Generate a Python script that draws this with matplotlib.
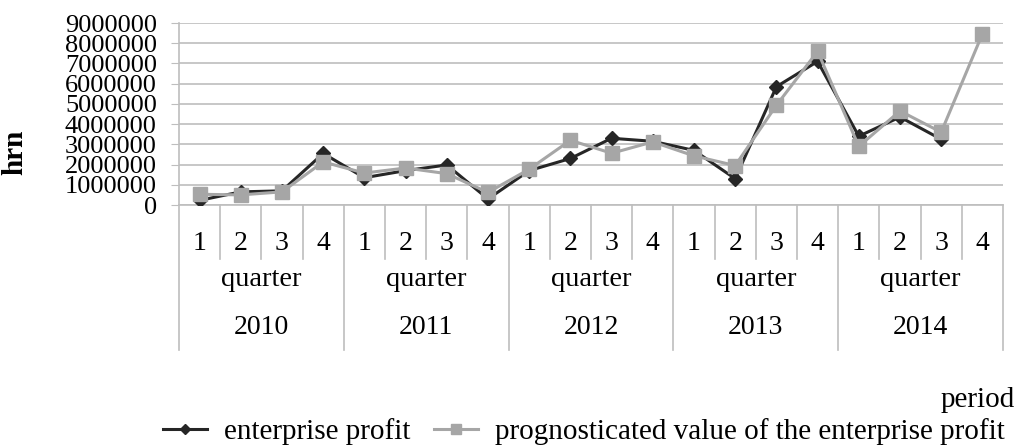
import numpy as np
import matplotlib.pyplot as plt

plt.rcParams['font.family'] = ['Liberation Serif', 'DejaVu Serif']

# Data
years = ['2010', '2011', '2012', '2013', '2014']
quarters = ['1', '2', '3', '4']
profit = [230000, 650000, 700000, 2550000, 1350000, 1700000, 1980000, 300000,
          1700000, 2300000, 3300000, 3150000, 2700000, 1300000, 5850000, 7100000,
          3400000, 4350000, 3250000, np.nan]
forecast = [530000, 500000, 650000, 2130000, 1580000, 1830000, 1550000, 620000,
            1770000, 3200000, 2560000, 3120000, 2430000, 1950000, 4930000, 7600000,
            2900000, 4650000, 3600000, 8460000]
y_ticks = [0, 1000000, 2000000, 3000000, 4000000, 5000000, 6000000, 7000000, 8000000, 9000000]

W, H = 1019, 446
fig = plt.figure(figsize=(W / 100, H / 100), dpi=100)
ax_left, ax_right, ax_top, ax_bottom = 179, 1003, 23, 205
ax = fig.add_axes([ax_left / W, 1 - ax_bottom / H, (ax_right - ax_left) / W, (ax_bottom - ax_top) / H])

grid_color = '#BEBEBE'
x = np.arange(len(forecast))
ax.plot(x, profit, color='#262626', lw=2.2, marker='D', ms=7, label='enterprise profit', zorder=3)
ax.plot(x, forecast, color='#A6A6A6', lw=2.2, marker='s', ms=9.5, label='prognosticated value of the enterprise profit', zorder=4)

ax.set_xlim(-0.5, len(forecast) - 0.5)
ax.set_ylim(0, 9000000)
ax.set_yticks(y_ticks)
ax.set_yticklabels([str(v) for v in y_ticks], fontsize=19)
ax.tick_params(axis='y', length=6, color=grid_color, pad=10)
ax.set_xticks([])
ax.grid(axis='y', color=grid_color, lw=1.2)
ax.set_axisbelow(True)
for s in ['top', 'right']:
    ax.spines[s].set_visible(False)
ax.spines['left'].set_color(grid_color)
ax.spines['bottom'].set_color(grid_color)
ax.spines['left'].set_linewidth(1.2)
ax.spines['bottom'].set_linewidth(1.2)

ax_h = ax_bottom - ax_top
def py(pix):
    # pixel row in the figure -> axes fraction
    return (ax_bottom - pix) / ax_h

tr = ax.get_xaxis_transform()
for i in range(len(forecast) + 1):
    bottom = 350 if i % 4 == 0 else 259
    ax.plot([i - 0.5, i - 0.5], [0, py(bottom)], transform=tr, color=grid_color,
            lw=1.2, clip_on=False)
for i in range(len(forecast)):
    ax.text(i, py(243), quarters[i % 4], transform=tr, ha='center', va='center', fontsize=20)
for k, yr in enumerate(years):
    xc = 4 * k + 1.5
    ax.text(xc, py(279), 'quarter', transform=tr, ha='center', va='center', fontsize=20.5)
    ax.text(xc, py(328), yr, transform=tr, ha='center', va='center', fontsize=20)

fig.text(15 / W, 1 - 152 / H, 'hrn', rotation=90, ha='center', va='center', fontsize=21, fontweight='bold')
fig.text(1015 / W, 1 - 400 / H, 'period', ha='right', va='center', fontsize=21)

fig.legend(loc='center', bbox_to_anchor=(584 / W, 1 - 432 / H), ncol=2, frameon=False,
           fontsize=21, handlelength=1.5, handletextpad=0.6, columnspacing=0.8,
           borderpad=0, markerscale=0.75)

fig.savefig('out.png', dpi=100)
